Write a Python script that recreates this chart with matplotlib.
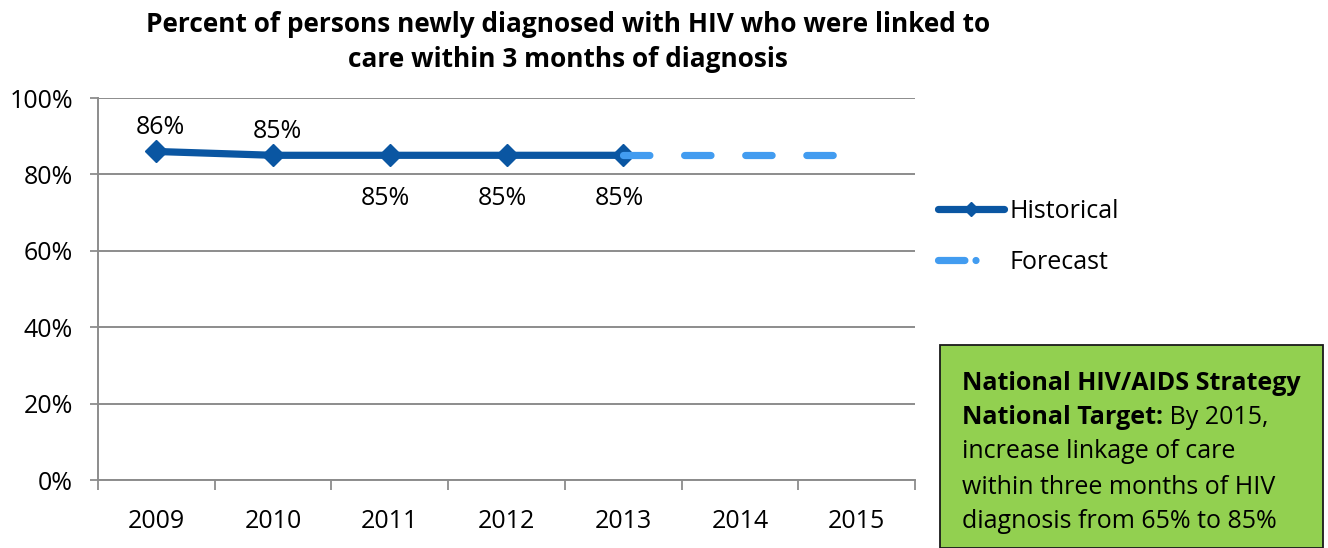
import matplotlib
matplotlib.use("Agg")
import matplotlib.pyplot as plt
from matplotlib.lines import Line2D
from matplotlib.patches import Rectangle
from matplotlib.text import Annotation

plt.rcParams['font.family'] = ['Open Sans', 'DejaVu Sans']
plt.rcParams['lines.scale_dashes'] = False

years = ["2009", "2010", "2011", "2012", "2013", "2014", "2015"]
hist_years = ["2009", "2010", "2011", "2012", "2013"]
hist_values = [86, 85, 85, 85, 85]
fc_years = ["2013", "2014", "2015"]
fc_values = [85, 85, 85]
label_above = [True, True, False, False, False]
yticks = [0, 20, 40, 60, 80, 100]

title = "Percent of persons newly diagnosed with HIV who were linked to\ncare within 3 months of diagnosis"

W, H = 1328, 548
fig = plt.figure(figsize=(W / 100, H / 100), dpi=100)
ax = fig.add_axes([98 / W, (H - 480) / H, (915 - 98) / W, (480 - 98) / H])

HIST_C = "#0A56A2"
FC_C = "#429CF0"
GRID_C = "#8C8C8C"
FS = 18

xi = {y: i for i, y in enumerate(years)}
hx = [xi[y] for y in hist_years]
fx = [xi[y] for y in fc_years]

ax.plot(fx, fc_values, color=FC_C, lw=5.2, linestyle=(0, (19.0, 25.0)),
        dash_capstyle='round', solid_capstyle='round', zorder=4)
ax.plot(hx, hist_values, color=HIST_C, lw=5.2, marker='D', markersize=11,
        solid_capstyle='round', zorder=3)

for x, v, up in zip(hx, hist_values, label_above):
    if up:
        ax.annotate(f"{v}%", (x, v), xytext=(3, 17), textcoords='offset points',
                    ha='center', va='center', fontsize=FS)
    else:
        ax.annotate(f"{v}%", (x, v), xytext=(-3, -31), textcoords='offset points',
                    ha='center', va='center', fontsize=FS)

ax.set_xlim(-0.5, len(years) - 0.5)
ax.set_ylim(0, 100)
ax.set_yticks(yticks)
ax.set_yticklabels([f"{t}%" for t in yticks], fontsize=FS)
ax.set_xticks(range(len(years)))
ax.set_xticklabels(years, fontsize=FS)
ax.set_xticks([i - 0.5 for i in range(len(years) + 1)], minor=True)
ax.tick_params(axis='x', which='major', length=0, pad=21)
ax.tick_params(axis='x', which='minor', length=7, width=1.3, color=GRID_C)
ax.tick_params(axis='y', length=6, width=1.3, color=GRID_C, pad=12)
ax.grid(axis='y', color=GRID_C, lw=1.4)
ax.set_axisbelow(True)
for s in ['top', 'right']:
    ax.spines[s].set_visible(False)
for s in ['left', 'bottom']:
    ax.spines[s].set_color(GRID_C)
    ax.spines[s].set_linewidth(1.4)

fig.text(568 / W, 1 - 42 / H, title, ha='center', va='center', fontsize=18.9,
         fontweight='bold', linespacing=1.35)

# legend
h1 = Line2D([], [], color=HIST_C, lw=5.2, marker='D', markersize=7,
            solid_capstyle='round')
h2 = Line2D([], [], color=FC_C, lw=5.2, linestyle=(0, (19.0, 8.0, 0.01, 100)),
            dash_capstyle='round')
leg = ax.legend([h1, h2], ["Historical", "Forecast"], loc='center left',
                bbox_to_anchor=(938 / W, 1 - 237 / H), bbox_transform=fig.transFigure,
                frameon=False, fontsize=18, handlelength=2.65, handletextpad=0.22,
                labelspacing=1.05, borderpad=0, borderaxespad=0)

# target box
fig.patches.append(Rectangle((940 / W, 0), (1323 - 940) / W, (H - 350) / H + 0.01,
                             transform=fig.transFigure, facecolor="#92D050",
                             edgecolor="#1a1a1a", lw=1.3, clip_on=False, zorder=1))
BFS = 18
lx = 962 / W
ys = [383, 418, 452, 487, 522]
fig.text(lx, 1 - ys[0] / H, "National HIV/AIDS Strategy", fontsize=BFS,
         fontweight='bold', va='center', ha='left', zorder=3)
t2 = fig.text(lx, 1 - ys[1] / H, "National Target:", fontsize=BFS,
              fontweight='bold', va='center', ha='left', zorder=3)
fig.add_artist(Annotation(" By 2015,", xy=(1, 0), xycoords=t2, ha='left',
                          va='bottom', fontsize=BFS, annotation_clip=False, zorder=3))
for yy, s in zip(ys[2:], ["increase linkage of care",
                          "within three months of HIV",
                          "diagnosis from 65% to 85%"]):
    fig.text(lx, 1 - yy / H, s, fontsize=BFS, va='center', ha='left', zorder=3)

fig.savefig("out.png", dpi=100)
